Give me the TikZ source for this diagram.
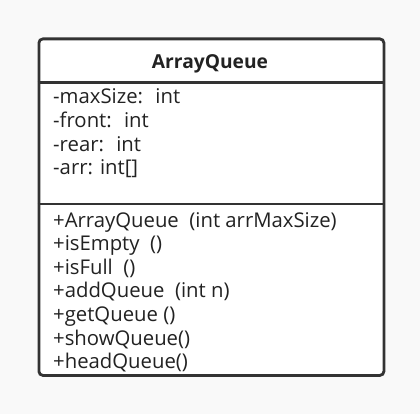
\documentclass[tikz,border=0pt]{standalone}
\usepackage{fontspec}
\setmainfont{Open Sans}
\usetikzlibrary{positioning}

\definecolor{umlline}{HTML}{333333}
\definecolor{umltext}{HTML}{222222}
\definecolor{umlpaper}{HTML}{F9F9F9}

\tikzset{
  classbox/.style={draw=umlline, line width=2.8pt, rounded corners=4pt, fill=white,
    inner sep=0pt, anchor=north west},
  classname/.style={font=\fontsize{19.2}{23.6}\selectfont\bfseries, text=umltext, inner sep=0pt},
  members/.style={font=\fontsize{20.3}{23.6}\selectfont, text=umltext, align=left,
    inner sep=0pt, anchor=base west},
  divider/.style={draw=umlline, line width=2.8pt}
}

\begin{document}
\begin{tikzpicture}[x=1pt,y=-1pt]
  \fill[umlpaper] (0,0) rectangle (420,414);

  \node[classbox, minimum width=345pt, minimum height=336.5pt](box) at (37.5,37.5){};

  \coordinate (d1) at (0,82.5);
  \coordinate (d2) at (0,204);
  \draw[divider] (box.west |- d1) -- (box.east |- d1);
  \draw[divider] (box.west |- d2) -- (box.east |- d2);

  \node[classname, anchor=base](name) at (210,69){ArrayQueue};

  % base anchor sits on the last line
  \node[members](attrs) at (53,174.8){%
    -maxSize:~ int\\
    -front:~ int\\
    -rear:~ int\\
    -arr: int[]};

  \node[members](ops) at (53,368.6){%
    +ArrayQueue~ (int arrMaxSize)\\
    +isEmpty~ ()\\
    +isFull~ ()\\
    +addQueue~ (int n)\\
    +getQueue ()\\
    +showQueue()\\
    +headQueue()};
\end{tikzpicture}
\end{document}
